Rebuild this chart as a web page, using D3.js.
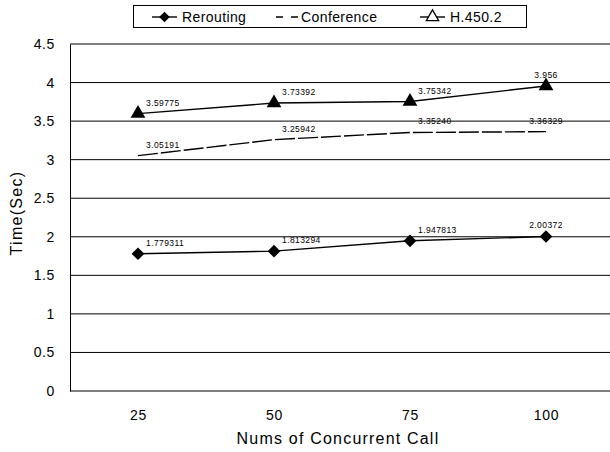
<!DOCTYPE html>
<html>
<head>
<meta charset="utf-8">
<script src="https://cdn.jsdelivr.net/npm/d3@7"></script>
<style>
  body { margin: 0; background: #fff; }
  text { font-family: "Liberation Sans", Arial, sans-serif; fill: #000; }
</style>
</head>
<body>
<div class="chart"></div>
<script>
// chart values
const calls = ["25", "50", "75", "100"];
const rerouting = [1.779311, 1.813294, 1.947813, 2.00372];
const conference = [3.05191, 3.25942, 3.3524, 3.36329];
const h4502 = [3.59775, 3.73392, 3.75342, 3.956];
// data labels as printed in the chart
const reroutingLabels = ["1.779311", "1.813294", "1.947813", "2.00372"];
const conferenceLabels = ["3.05191", "3.25942", "3.35240", "3.36329"];
const h4502Labels = ["3.59775", "3.73392", "3.75342", "3.956"];
const yTicks = [0, 0.5, 1, 1.5, 2, 2.5, 3, 3.5, 4, 4.5];

const W = 610, H = 452;
const margin = {top: 44, right: 0, bottom: 61, left: 70};
const width = W - margin.left - margin.right,
      height = H - margin.top - margin.bottom;

const svg = d3.select(".chart").append("svg")
    .attr("width", W).attr("height", H);
const g = svg.append("g")
    .attr("transform", "translate(" + margin.left + "," + margin.top + ")");

const x = d3.scalePoint().domain(calls).range([0, width + 4]).padding(0.5);
const y = d3.scaleLinear().domain([0, 4.5]).range([height, 0]);

// grid lines
g.append("g").selectAll("line").data(yTicks).join("line")
    .attr("x1", 0).attr("x2", width)
    .attr("y1", d => y(d)).attr("y2", d => y(d))
    .attr("stroke", "#000").attr("stroke-width", 1);

// left axis
const yAxis = g.append("g")
    .call(d3.axisLeft(y).tickValues(yTicks).tickSize(0).tickPadding(15)
      .tickFormat(d => String(d)));
yAxis.select(".domain").attr("stroke", "#000");
yAxis.selectAll("text").style("font-size", "14px").style("letter-spacing", "0.6px");

// bottom axis
const xAxis = g.append("g")
    .attr("transform", "translate(0," + height + ")")
    .call(d3.axisBottom(x).tickSize(0).tickPadding(19));
xAxis.select(".domain").remove();
xAxis.selectAll("text").style("font-size", "14px").style("letter-spacing", "0.8px");

// axis titles
svg.append("text")
    .attr("x", 338).attr("y", 444)
    .attr("text-anchor", "middle").style("font-size", "16px")
    .style("letter-spacing", "1.2px")
    .text("Nums of Concurrent Call");
svg.append("text")
    .attr("transform", "translate(22,213) rotate(-90)")
    .attr("text-anchor", "middle").style("font-size", "16px")
    .style("letter-spacing", "1.3px")
    .text("Time(Sec)");

const line = d3.line().x((d, i) => x(calls[i])).y(d => y(d));

// diamond = square turned 45 degrees
const series = [
  {name: "Rerouting", values: rerouting, labels: reroutingLabels, marker: d3.symbolSquare, rot: 45, size: 80, dash: null},
  {name: "Conference", values: conference, labels: conferenceLabels, marker: null, dash: "20,3"},
  {name: "H.450.2", values: h4502, labels: h4502Labels, marker: d3.symbolTriangle, rot: 0, size: 95, dash: null}
];

series.forEach(s => {
  g.append("path")
      .datum(s.values)
      .attr("fill", "none")
      .attr("stroke", "#000")
      .attr("stroke-width", 1.4)
      .attr("stroke-dasharray", s.dash)
      .attr("d", line);
  if (s.marker) {
    g.append("g").selectAll("path").data(s.values).join("path")
        .attr("transform", (d, i) => "translate(" + x(calls[i]) + "," + y(d) + ") rotate(" + s.rot + ")")
        .attr("d", d3.symbol().type(s.marker).size(s.size))
        .attr("fill", "#000");
  }
  // value labels: last point centred above, others above-right
  g.append("g").selectAll("text").data(s.values).join("text")
      .attr("x", (d, i) => i === 3 ? x(calls[i]) : x(calls[i]) + 8)
      .attr("y", d => y(d) - 8)
      .attr("text-anchor", (d, i) => i === 3 ? "middle" : "start")
      .style("font-size", "8.5px")
      .style("letter-spacing", "0.4px")
      .text((d, i) => s.labels[i]);
});

// legend
const lg = svg.append("g");
lg.append("rect")
    .attr("x", 133.5).attr("y", 5.5).attr("width", 393).attr("height", 22)
    .attr("fill", "#fff").attr("stroke", "#000");
const legendX = [152, 276, 420];
series.forEach((s, i) => {
  const lx = legendX[i], ly = 17;
  lg.append("line")
      .attr("x1", lx).attr("x2", lx + 25).attr("y1", ly).attr("y2", ly)
      .attr("stroke", "#000").attr("stroke-width", 1.4)
      .attr("stroke-dasharray", s.dash ? "7,8" : null);
  if (s.marker) {
    lg.append("path")
        .attr("transform", "translate(" + (lx + 12.5) + "," + ly + ") rotate(" + s.rot + ")")
        .attr("d", d3.symbol().type(s.marker).size(s.size * 0.7))
        .attr("fill", i === 2 ? "#fff" : "#000")
        .attr("stroke", "#000").attr("stroke-width", i === 2 ? 1.3 : 0);
  }
  lg.append("text")
      .attr("x", lx + (s.dash ? 25 : 30)).attr("y", ly + 5)
      .style("font-size", "14px")
      .style("letter-spacing", "0.4px")
      .text(s.name);
});
</script>
</body>
</html>
